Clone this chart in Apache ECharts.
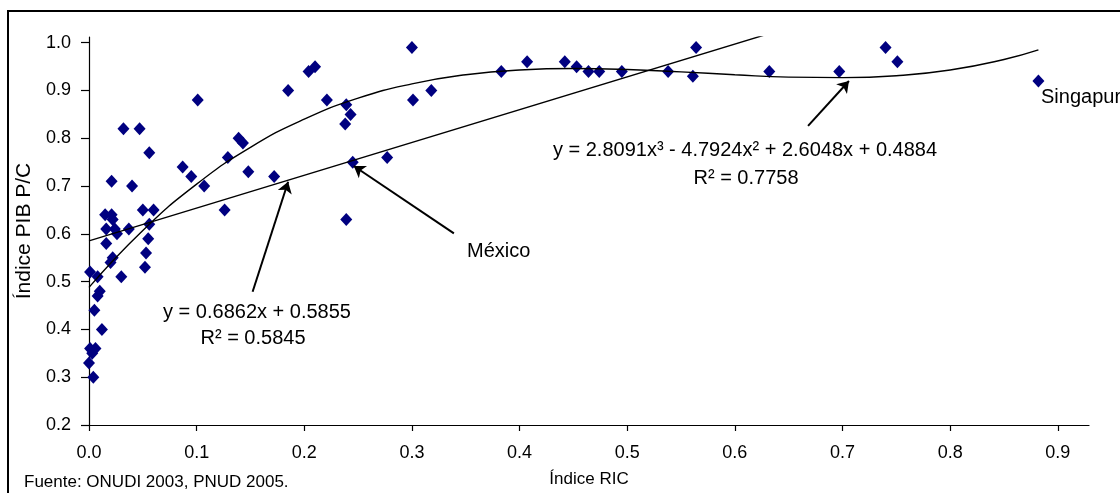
<!DOCTYPE html>
<html>
<head>
<meta charset="utf-8">
<script src="https://cdn.jsdelivr.net/npm/echarts@6/dist/echarts.min.js"></script>
<style>
  html, body { margin: 0; padding: 0; background: #fff; }
  #main { width: 1120px; height: 493px; }
</style>
</head>
<body>
<div id="main"></div>
<script>
// Índice RIC (x) vs Índice PIB P/C (y), one entry per country
var ricIndex = [0.300, 0.564, 0.740, 0.751, 0.407, 0.442, 0.383, 0.453, 0.464, 0.474, 0.495, 0.538, 0.561, 0.632, 0.697, 0.882,
  0.301, 0.318, 0.210, 0.204, 0.185, 0.101, 0.221, 0.239, 0.243, 0.238, 0.139, 0.143, 0.129, 0.087, 0.095, 0.107, 0.148, 0.172,
  0.245, 0.277, 0.126, 0.239, 0.032, 0.047, 0.056, 0.021, 0.040, 0.050, 0.060, 0.015, 0.021, 0.022, 0.016, 0.024, 0.026, 0.037,
  0.056, 0.055, 0.053, 0.052, 0.016, 0.022, 0.020, 0.030, 0.001, 0.008, 0.010, 0.008, 0.005, 0.012, 0.001, 0.006, 0.003, 0.000, 0.004]
var pibIndex = [0.99, 0.99, 0.99, 0.96, 0.96, 0.96, 0.94, 0.95, 0.94, 0.94, 0.94, 0.94, 0.93, 0.94, 0.94, 0.92,
  0.88, 0.90, 0.95, 0.94, 0.90, 0.88, 0.88, 0.87, 0.85, 0.83, 0.80, 0.79, 0.76, 0.74, 0.72, 0.70, 0.73, 0.72,
  0.75, 0.76, 0.65, 0.63, 0.82, 0.82, 0.77, 0.71, 0.70, 0.65, 0.65, 0.64, 0.64, 0.63, 0.61, 0.61, 0.60, 0.61,
  0.62, 0.59, 0.56, 0.53, 0.58, 0.55, 0.54, 0.51, 0.52, 0.51, 0.48, 0.47, 0.44, 0.40, 0.36, 0.36, 0.35, 0.33, 0.30]

// trend lines
var linX = [0, 0.882]
var linY = [0.5855, 1.1907]
var cubX = [0, 0.05, 0.1, 0.15, 0.2, 0.25, 0.3, 0.35, 0.4, 0.45, 0.5, 0.55, 0.6, 0.65, 0.7, 0.75, 0.8, 0.85, 0.882]
var cubY = [0.488, 0.607, 0.704, 0.781, 0.840, 0.884, 0.914, 0.933, 0.943, 0.946, 0.944, 0.939, 0.933, 0.928, 0.927, 0.931, 0.943, 0.965, 0.985]

// callout arrows: [fromX, fromY, toX, toY]
var arrows = [
  [0.152, 0.479, 0.185, 0.709],
  [0.339, 0.601, 0.246, 0.742],
  [0.668, 0.826, 0.706, 0.920]
]

var xTicks = [0, 0.1, 0.2, 0.3, 0.4, 0.5, 0.6, 0.7, 0.8, 0.9]
var yTicks = [0.2, 0.3, 0.4, 0.5, 0.6, 0.7, 0.8, 0.9, 1.0]

var points = ricIndex.map(function (x, i) { return [x, pibIndex[i]] })
var linData = linX.map(function (x, i) { return [x, linY[i]] })
var cubData = cubX.map(function (x, i) { return [x, cubY[i]] })
var arrowData = arrows.map(function (a) {
  return [{ coord: [a[0], a[1]] }, { coord: [a[2], a[3]] }]
})

var font = 'Liberation Sans, Arial, sans-serif'
var chart = echarts.init(document.getElementById('main'))

function txt(x, y, s, size, center) {
  var st = { text: s, font: size + 'px ' + font, fill: '#000', textVerticalAlign: 'middle', verticalAlign: 'middle' }
  if (center) { st.textAlign = 'center'; st.align = 'center' }
  return { type: 'text', x: x, y: y, silent: true, style: st }
}

chart.setOption({
  animation: false,
  backgroundColor: '#fff',
  grid: { left: 89, right: 31, top: 37, bottom: 67 },
  xAxis: {
    type: 'value',
    min: 0,
    max: 0.929,
    name: 'Índice RIC',
    nameLocation: 'middle',
    nameGap: 46,
    nameTextStyle: { fontFamily: font, fontSize: 17, color: '#000' },
    axisLine: { lineStyle: { color: '#000', width: 1.2 } },
    axisTick: { length: 6, lineStyle: { color: '#000', width: 1.2 }, customValues: xTicks },
    axisLabel: {
      customValues: xTicks, margin: 19, fontFamily: font, fontSize: 18, color: '#000',
      formatter: function (v) { return v.toFixed(1) }
    },
    splitLine: { show: false }
  },
  yAxis: {
    type: 'value',
    min: 0.2,
    max: 1.012,
    name: 'Índice PIB P/C',
    nameLocation: 'middle',
    nameGap: 54,
    nameTextStyle: { fontFamily: font, fontSize: 21, color: '#000' },
    axisLine: { show: true, lineStyle: { color: '#000', width: 1.2 } },
    axisTick: { show: true, length: 8, lineStyle: { color: '#000', width: 1.2 }, customValues: yTicks },
    axisLabel: {
      customValues: yTicks, margin: 18, fontFamily: font, fontSize: 18, color: '#000',
      formatter: function (v) { return v.toFixed(1) }
    },
    splitLine: { show: false }
  },
  series: [
    {
      type: 'scatter',
      symbol: 'diamond',
      symbolSize: [12, 13],
      itemStyle: { color: '#000080', opacity: 1 },
      data: points,
      z: 2
    },
    {
      type: 'line',
      data: linData,
      showSymbol: false,
      lineStyle: { color: '#000', width: 1.4 },
      z: 3,
      markLine: {
        silent: true,
        symbol: ['none', 'arrow'],
        symbolSize: 11,
        label: { show: false },
        lineStyle: { color: '#000', width: 2, type: 'solid' },
        data: arrowData
      }
    },
    {
      type: 'line',
      data: cubData,
      smooth: true,
      showSymbol: false,
      lineStyle: { color: '#000', width: 1.4 },
      z: 3
    }
  ],
  graphic: [
    { type: 'rect', shape: { x: 8, y: 11, width: 1300, height: 700 }, style: { fill: 'none', stroke: '#000', lineWidth: 2 }, silent: true },
    txt(257, 312, 'y = 0.6862x + 0.5855', 20, true),
    txt(253, 338, 'R² = 0.5845', 20, true),
    txt(745, 150, 'y = 2.8091x³ - 4.7924x² + 2.6048x + 0.4884', 20, true),
    txt(746, 178, 'R² = 0.7758', 20, true),
    txt(467, 251, 'México', 20, false),
    txt(1041, 97, 'Singapur', 20, false),
    txt(24, 482, 'Fuente: ONUDI 2003, PNUD 2005.', 17, false)
  ]
})
</script>
</body>
</html>
